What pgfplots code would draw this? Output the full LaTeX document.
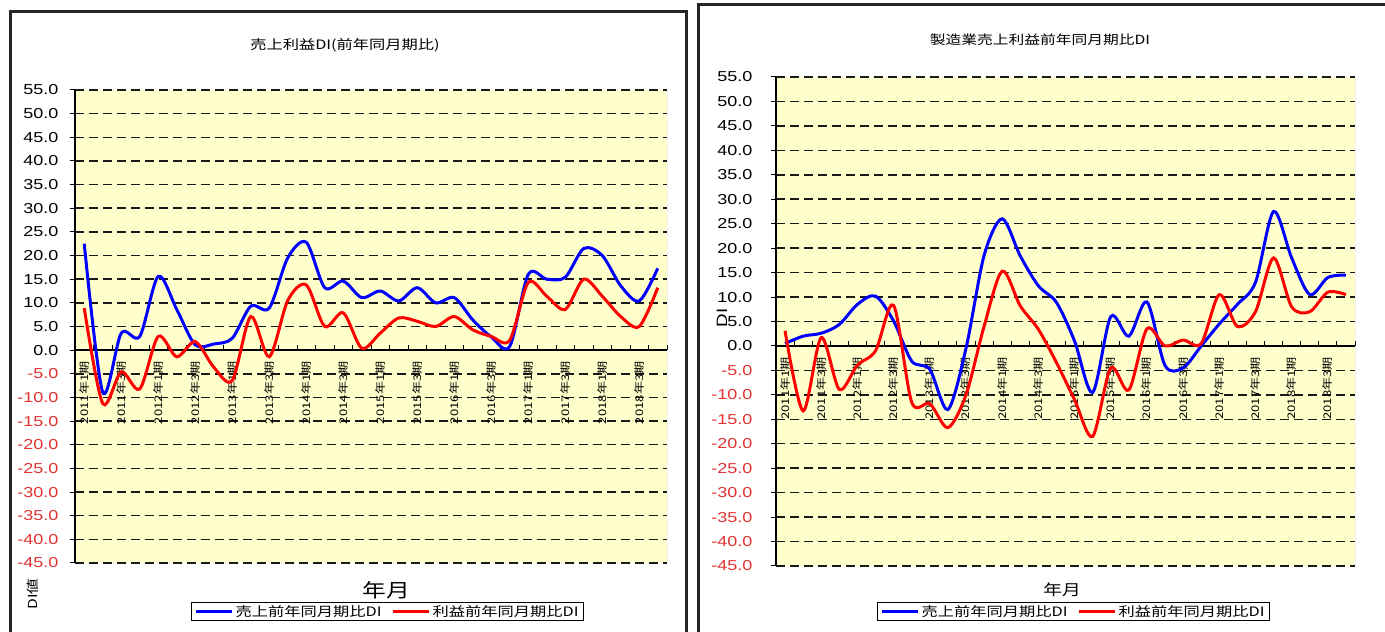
\documentclass[border=0pt]{standalone}
\usepackage{fontspec}
\setmainfont{Liberation Sans}[FakeStretch=1.25]
\newfontfamily\cjk{Noto Sans CJK JP}[FakeStretch=1.25]
\usepackage{pgfplots}
\usepackage{pgfplotstable}
\pgfplotsset{compat=1.18}

\definecolor{bgyellow}{RGB}{255,255,204}
\definecolor{negred}{RGB}{228,50,50}
\definecolor{lineblue}{RGB}{0,0,255}
\definecolor{linered}{RGB}{255,0,0}

% 全国：売上・利益 前年同月期比DI（四半期）
\pgfplotstableread{
i uri rieki
0 22.5 8.9
1 -8.9 -11.3
2 3.6 -4.6
3 2.9 -8.2
4 15.6 2.9
5 8.6 -1.4
6 1.1 1.8
7 1.3 -3.6
8 2.5 -6.4
9 9.3 7.1
10 8.9 -1.4
11 19.5 10.5
12 22.8 13.8
13 13.2 5.0
14 14.6 7.9
15 11.1 0.4
16 12.5 3.6
17 10.4 6.8
18 13.2 6.1
19 10.0 5.0
20 11.1 7.1
21 6.4 4.3
22 2.8 2.9
23 0.8 2.1
24 16.0 14.3
25 15.0 11.4
26 15.4 8.6
27 21.5 15.0
28 20.0 11.4
29 13.6 7.1
30 10.4 5.0
31 17.3 13.2
}\zenkoku

% 製造業：売上・利益 前年同月期比DI（四半期）
\pgfplotstableread{
i uri rieki
0 0.5 3.1
1 2.0 -13.3
2 2.6 1.7
3 4.4 -8.9
4 8.5 -3.9
5 10.2 -1.0
6 5.1 8.3
7 -3.1 -11.5
8 -4.8 -11.8
9 -13.0 -16.7
10 -0.5 -10.0
11 18.5 4.0
12 26.0 15.3
13 18.4 8.2
14 12.3 3.4
15 8.9 -3.4
16 1.0 -11.0
17 -9.5 -18.5
18 6.0 -4.5
19 2.0 -9.0
20 9.0 3.5
21 -4.0 0.0
22 -4.5 1.2
23 0.0 0.5
24 4.5 10.5
25 8.5 4.0
26 13.0 7.0
27 27.5 18.0
28 18.0 8.0
29 10.5 7.0
30 14.0 11.0
31 14.5 10.5
}\seizo

\pgfplotsset{
  dichart/.style={
    scale only axis, anchor=south west,
    xmin=-0.5, xmax=31.5, ymin=-45, ymax=55,
    axis x line=middle, axis y line=left,
    axis line style={-, black, line width=1.3pt},
    axis background/.style={fill=bgyellow},
    ytick={-45,-40,...,55},
    yticklabels={\textcolor{negred}{-45.0},\textcolor{negred}{-40.0},\textcolor{negred}{-35.0},
      \textcolor{negred}{-30.0},\textcolor{negred}{-25.0},\textcolor{negred}{-20.0},
      \textcolor{negred}{-15.0},\textcolor{negred}{-10.0},\textcolor{negred}{-5.0},
      0.0,5.0,10.0,15.0,20.0,25.0,30.0,35.0,40.0,45.0,50.0,55.0},
    ymajorgrids,
    major grid style={black!90, line width=1.5pt, dash pattern=on 9pt off 5pt},
    xtick={0,2,...,30},
    xticklabels={2011年1期,2011年3期,2012年1期,2012年3期,2013年1期,2013年3期,
      2014年1期,2014年3期,2015年1期,2015年3期,2016年1期,2016年3期,
      2017年1期,2017年3期,2018年1期,2018年3期},
    minor xtick={-0.5,0.5,...,31.5},
    major x tick style={draw=none},
    minor x tick style={black, line width=1pt, yshift=5pt},
    y tick style={black, line width=1pt},
    major tick length=5pt, minor tick length=5pt,
    tick align=outside,
    x tick label style={rotate=90, anchor=east, inner sep=1pt,
      font=\cjk\fontsize{10.5}{11}\selectfont},
    xticklabel shift=5pt,
    y tick label style={font=\fontsize{14.4}{16}\selectfont},
    legend columns=2,
    legend style={draw=black, line width=1.3pt, inner ysep=1pt, inner xsep=3pt,
      font=\cjk\fontsize{13}{14}\selectfont,
      /tikz/every even column/.append style={column sep=8pt}},
    legend image code/.code={\draw[#1] (0pt,0pt) -- (36pt,0pt);},
    every axis plot/.append style={line width=3pt, smooth},
  }
}

\begin{document}
\begin{tikzpicture}
\useasboundingbox (0pt,0pt) rectangle (1385pt,632pt);
\fill[white] (0pt,0pt) rectangle (1385pt,632pt);

% panel frames
\draw[line width=3pt, black!85] (10pt,-5pt) -- (10pt,620pt) -- (686pt,620pt) -- (686pt,-5pt);
\draw[line width=3pt, black!85] (698pt,-5pt) -- (698pt,627pt) -- (1390pt,627pt);

% 全国
\begin{axis}[dichart,
  at={(75pt,69pt)}, width=592pt, height=473pt,
  yticklabel style={xshift=-8pt},
  legend style={at={(0.528,-0.1025)}, anchor=center}]
\addplot[lineblue] table[x=i, y=uri] {\zenkoku};
\addlegendentry{売上前年同月期比DI}
\addplot[linered] table[x=i, y=rieki] {\zenkoku};
\addlegendentry{利益前年同月期比DI}
\draw[gray!70, line width=1pt] (rel axis cs:1,0) -- (rel axis cs:1,1);
\end{axis}
\node[font=\cjk\fontsize{13}{14}\selectfont] at (345pt,587pt) {売上利益DI(前年同月期比)};
\node[font=\cjk\fontsize{19}{20}\selectfont] at (386pt,42pt) {年月};
\node[font=\cjk\fontsize{12.5}{13}\selectfont, rotate=90] at (33pt,38pt) {DI値};

% 製造業
\begin{axis}[dichart,
  at={(776pt,66pt)}, width=579pt, height=489pt,
  yticklabel style={xshift=-15pt},
  legend style={at={(0.514,-0.093)}, anchor=center}]
\addplot[lineblue] table[x=i, y=uri] {\seizo};
\addlegendentry{売上前年同月期比DI}
\addplot[linered] table[x=i, y=rieki] {\seizo};
\addlegendentry{利益前年同月期比DI}
\draw[gray!70, line width=1pt] (rel axis cs:1,0) -- (rel axis cs:1,1);
\end{axis}
\node[font=\cjk\fontsize{12.6}{14}\selectfont] at (1040pt,592pt) {製造業売上利益前年同月期比DI};
\node[font=\cjk\fontsize{15}{16}\selectfont] at (1062pt,42pt) {年月};
\node[font=\fontsize{15}{16}\selectfont, rotate=90] at (722pt,314pt) {DI};
\end{tikzpicture}
\end{document}
